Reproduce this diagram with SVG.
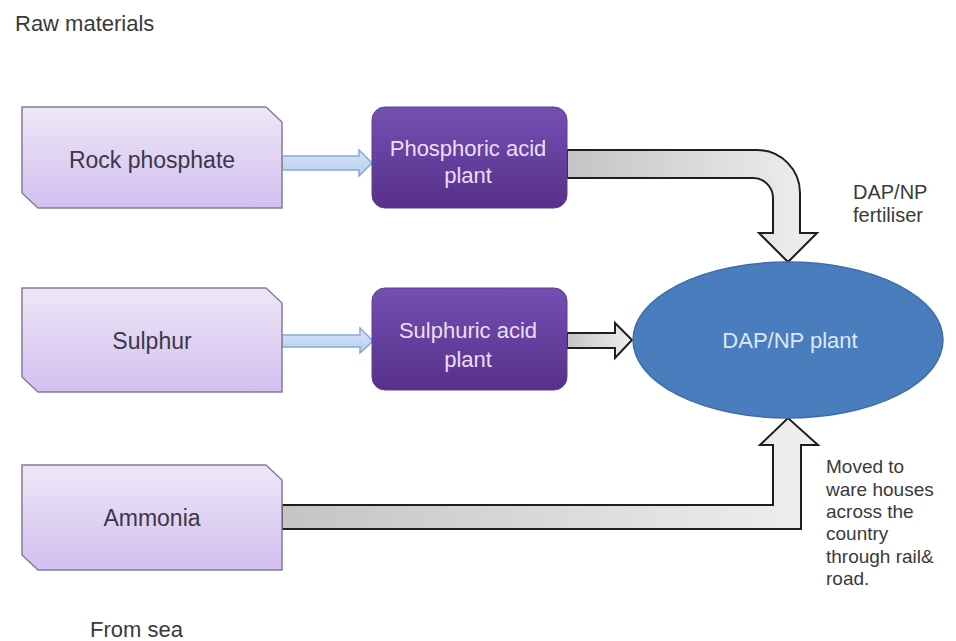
<svg xmlns="http://www.w3.org/2000/svg" width="956" height="641" viewBox="0 0 956 641">
<defs>
<linearGradient id="gLight" x1="0" y1="0" x2="0" y2="1">
<stop offset="0" stop-color="#eee7f7"/><stop offset="1" stop-color="#d2bff0"/>
</linearGradient>
<linearGradient id="gDark" x1="0" y1="0" x2="0" y2="1">
<stop offset="0" stop-color="#7450b2"/><stop offset="1" stop-color="#57308a"/>
</linearGradient>
<linearGradient id="gGray" x1="0" y1="0" x2="1" y2="0">
<stop offset="0" stop-color="#c4c4c4"/><stop offset="1" stop-color="#efefef"/>
</linearGradient>
<linearGradient id="gBlue" x1="0" y1="0" x2="0" y2="1">
<stop offset="0" stop-color="#d8e6f8"/><stop offset="1" stop-color="#b6cdee"/>
</linearGradient>
</defs>
<style>
text{font-family:"Liberation Sans",Arial,sans-serif}
.raw{fill:url(#gLight);stroke:#857c96;stroke-width:1.5}
.plant{fill:url(#gDark);stroke:#5e3e8e;stroke-width:1}
.bar{fill:url(#gGray);stroke:#1e1e1e;stroke-width:2;stroke-linejoin:miter}
.blue{fill:url(#gBlue);stroke:#86a8d8;stroke-width:1.5}
.dark{fill:#3b3748}
.lt{fill:#eadff7}
.lbl{fill:#3a3a3a}
</style>
<rect width="956" height="641" fill="#ffffff"/>
<text x="15" y="31" font-size="22" class="lbl">Raw materials</text>
<g id="connectors">
<path class="blue" d="M282,156 H359 V150 L372,163 L359,176 V170 H282 Z"/>
<path class="blue" d="M282,335 H360 V328 L373,341 L360,353 V347 H282 Z"/>
<path class="bar" d="M567,150 H757 A43,43 0 0 1 800,193 V233 H817 L788,262 L759,233 H773 V198 A20,20 0 0 0 753,178 H567 Z"/>
<path class="bar" d="M567,333 H615 V323 L632,340 L615,358 V348 H567 Z"/>
<path class="bar" d="M282,505 H773 V445 H760 L788,418 L818,445 H801 V529 H282 Z"/>
</g>
<g id="rock">
<path class="raw" d="M22,107 H266 L282,122 V208 H38 L22,193 Z"/>
<text x="152" y="168" font-size="23" text-anchor="middle" class="dark">Rock phosphate</text>
</g>
<g id="sulphur">
<path class="raw" d="M22,288 H266 L282,303 V392 H38 L22,377 Z"/>
<text x="152" y="349" font-size="23" text-anchor="middle" class="dark">Sulphur</text>
</g>
<g id="ammonia">
<path class="raw" d="M22,465 H266 L282,480 V570 H38 L22,555 Z"/>
<text x="152" y="526" font-size="23" text-anchor="middle" class="dark">Ammonia</text>
</g>
<g id="phosphoric">
<rect class="plant" x="372" y="107" width="195" height="101" rx="13"/>
<text x="468" y="156" font-size="22" text-anchor="middle" class="lt">Phosphoric acid</text>
<text x="468" y="183" font-size="22" text-anchor="middle" class="lt">plant</text>
</g>
<g id="sulphuric">
<rect class="plant" x="372" y="288" width="195" height="102" rx="13"/>
<text x="468" y="338" font-size="22" text-anchor="middle" class="lt">Sulphuric acid</text>
<text x="468" y="367" font-size="22" text-anchor="middle" class="lt">plant</text>
</g>
<g id="dap">
<ellipse cx="788" cy="340" rx="155" ry="78" fill="#4a7dbd" stroke="#3d6eab" stroke-width="1.5"/>
<text x="790" y="348" font-size="22" text-anchor="middle" fill="#dde8f6">DAP/NP plant</text>
</g>
<text x="853" y="199" font-size="20" class="lbl">DAP/NP</text>
<text x="853" y="222" font-size="20" class="lbl">fertiliser</text>
<text x="826" y="473" font-size="19" class="lbl">Moved to</text>
<text x="826" y="496" font-size="19" class="lbl">ware houses</text>
<text x="826" y="518" font-size="19" class="lbl">across the</text>
<text x="826" y="540" font-size="19" class="lbl">country</text>
<text x="826" y="563" font-size="19" class="lbl">through rail&amp;</text>
<text x="826" y="585" font-size="19" class="lbl">road.</text>
<text x="90" y="637" font-size="22" class="lbl">From sea</text>
</svg>
